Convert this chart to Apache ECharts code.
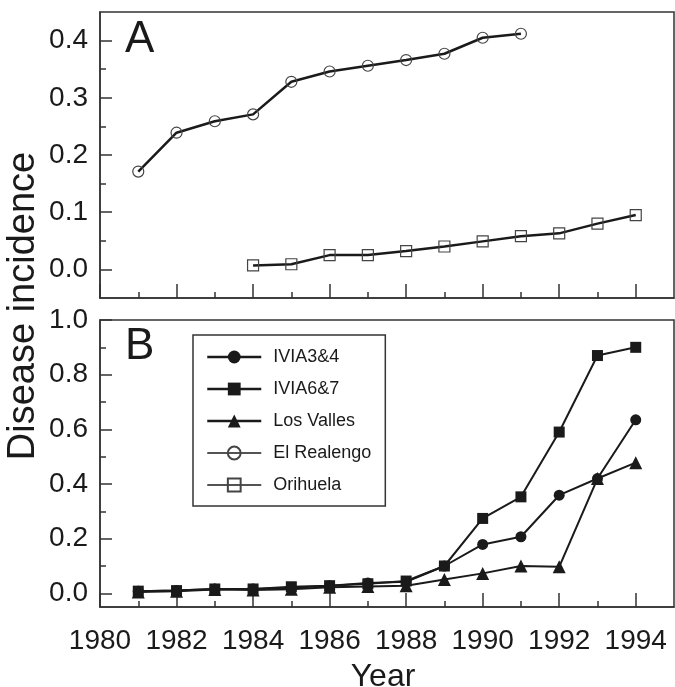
<!DOCTYPE html>
<html>
<head>
<meta charset="utf-8">
<script src="https://cdn.jsdelivr.net/npm/echarts@6/dist/echarts.min.js"></script>
<style>
  html, body { margin: 0; padding: 0; background: #fff; }
  #chart { width: 675px; height: 687px; }
</style>
</head>
<body>
<div id="chart"></div>
<script>
// data
const yearsB = [1981, 1982, 1983, 1984, 1985, 1986, 1987, 1988, 1989, 1990, 1991, 1992, 1993, 1994]
const yearsRealengo = [1981, 1982, 1983, 1984, 1985, 1986, 1987, 1988, 1989, 1990, 1991]
const yearsOrihuela = [1984, 1985, 1986, 1987, 1988, 1989, 1990, 1991, 1992, 1993, 1994]

const elRealengo = [0.171, 0.239, 0.259, 0.271, 0.328, 0.346, 0.356, 0.366, 0.377, 0.405, 0.412]
const orihuela = [0.007, 0.009, 0.025, 0.025, 0.032, 0.040, 0.049, 0.058, 0.063, 0.080, 0.095]

const ivia34 = [0.008, 0.010, 0.016, 0.016, 0.020, 0.028, 0.038, 0.042, 0.10, 0.179, 0.207, 0.359, 0.42, 0.635]
const ivia67 = [0.008, 0.010, 0.016, 0.016, 0.024, 0.028, 0.035, 0.045, 0.10, 0.274, 0.353, 0.59, 0.87, 0.90]
const losValles = [0.005, 0.008, 0.014, 0.012, 0.015, 0.022, 0.025, 0.028, 0.051, 0.073, 0.10, 0.097, 0.42, 0.478]

// tick labels
const yearLabels = [1980, 1982, 1984, 1986, 1988, 1990, 1992, 1994]
const yearMinor = [1981, 1983, 1985, 1987, 1989, 1991, 1993]
const ticksA = [0.0, 0.1, 0.2, 0.3, 0.4]
const ticksAMinor = [0.05, 0.15, 0.25, 0.35]
const ticksB = [0.0, 0.2, 0.4, 0.6, 0.8, 1.0]
const ticksBMinor = [0.1, 0.3, 0.5, 0.7, 0.9]

const FONT = '"Liberation Sans", Arial, sans-serif'
const INK = '#1a1a1a'
const FRAME = '#333'

function pairs(xs, ys) {
  return xs.map((x, i) => [x, ys[i]])
}

function xAxisPair(gridIndex, showLabels) {
  return [
    {
      type: 'value', gridIndex, min: 1980, max: 1995, position: 'bottom',
      axisLine: { show: true, onZero: false, lineStyle: { color: FRAME, width: 1.5 } },
      axisTick: { inside: true, length: 14, customValues: yearLabels, lineStyle: { color: FRAME, width: 1.5 } },
      axisLabel: {
        show: showLabels, customValues: yearLabels, margin: 20,
        fontSize: 28, fontFamily: FONT, color: INK,
        formatter: (v) => String(v),
      },
      splitLine: { show: false },
      name: showLabels ? 'Year' : '',
      nameLocation: 'middle',
      nameGap: 54,
      nameTextStyle: { fontSize: 32, fontFamily: FONT, color: INK, padding: [0, 8, 0, 0] },
    },
    {
      type: 'value', gridIndex, min: 1980, max: 1995, position: 'bottom',
      axisLine: { show: false, onZero: false },
      axisTick: { inside: true, length: 6, customValues: yearMinor, lineStyle: { color: FRAME, width: 1.5 } },
      axisLabel: { show: false },
      splitLine: { show: false },
    },
  ]
}

function yAxisPair(gridIndex, max, major, minor) {
  return [
    {
      type: 'value', gridIndex, min: -0.05, max, position: 'left',
      axisLine: { show: true, onZero: false, lineStyle: { color: FRAME, width: 1.5 } },
      axisTick: { inside: true, length: 12, customValues: major, lineStyle: { color: FRAME, width: 1.5 } },
      axisLabel: {
        customValues: major, margin: 12,
        fontSize: 28, fontFamily: FONT, color: INK,
        formatter: (v) => v.toFixed(1),
      },
      splitLine: { show: false },
    },
    {
      type: 'value', gridIndex, min: -0.05, max, position: 'left',
      axisLine: { show: false, onZero: false },
      axisTick: { inside: true, length: 6, customValues: minor, lineStyle: { color: FRAME, width: 1.5 } },
      axisLabel: { show: false },
      splitLine: { show: false },
    },
  ]
}

function series(name, data, xi, yi, symbol, size, filled, lineWidth) {
  return {
    name, type: 'line', data,
    xAxisIndex: xi, yAxisIndex: yi,
    symbol, symbolSize: size, showAllSymbol: true,
    lineStyle: { color: INK, width: lineWidth },
    itemStyle: filled
      ? { color: INK, borderColor: INK, borderWidth: 0 }
      : { color: 'transparent', borderColor: '#444', borderWidth: 1.2 },
    emphasis: { disabled: true },
  }
}

const chart = echarts.init(document.getElementById('chart'), null, { renderer: 'canvas' })

const option = {
  animation: false,
  backgroundColor: '#fff',
  grid: [
    { left: 100, width: 574, top: 12, height: 286, outerBoundsMode: 'none', show: true, borderColor: FRAME, borderWidth: 1.5 },
    { left: 100, width: 574, top: 320, height: 287, outerBoundsMode: 'none', show: true, borderColor: FRAME, borderWidth: 1.5 },
  ],
  xAxis: [...xAxisPair(0, false), ...xAxisPair(1, true)],
  yAxis: [...yAxisPair(0, 0.45, ticksA, ticksAMinor), ...yAxisPair(1, 1.0, ticksB, ticksBMinor)],
  legend: {
    left: 193, top: 335,
    orient: 'vertical',
    padding: [13, 14, 12, 13],
    itemWidth: 54, itemHeight: 16, itemGap: 14,
    borderColor: FRAME, borderWidth: 1.5,
    textStyle: { fontSize: 18, fontFamily: FONT, color: INK, padding: [0, 0, 0, 7] },
    data: [
      { name: 'IVIA3&4', lineStyle: { width: 2.5, color: INK } },
      { name: 'IVIA6&7', lineStyle: { width: 2.5, color: INK } },
      { name: 'Los Valles', lineStyle: { width: 2.5, color: INK } },
      { name: 'El Realengo', lineStyle: { width: 1.4, color: INK } },
      { name: 'Orihuela', lineStyle: { width: 1.4, color: INK } },
    ],
  },
  graphic: [
    { type: 'text', left: 125, top: 18, style: { text: 'A', fontSize: 44, fontFamily: FONT, fill: INK } },
    { type: 'text', left: 125, top: 325, style: { text: 'B', fontSize: 44, fontFamily: FONT, fill: INK } },
    {
      type: 'text', x: 24, y: 306, rotation: Math.PI / 2,
      style: { text: 'Disease incidence', fontSize: 38, fontFamily: FONT, fill: INK, align: 'center', verticalAlign: 'middle' },
    },
  ],
  series: [
    series('El Realengo', pairs(yearsRealengo, elRealengo), 0, 0, 'circle', 11, false, 2.5),
    series('Orihuela', pairs(yearsOrihuela, orihuela), 0, 0, 'rect', 11, false, 2.5),
    series('IVIA3&4', pairs(yearsB, ivia34), 2, 2, 'circle', 11, true, 2),
    series('IVIA6&7', pairs(yearsB, ivia67), 2, 2, 'rect', 11, true, 2),
    series('Los Valles', pairs(yearsB, losValles), 2, 2, 'triangle', 13, true, 2),
  ],
}

chart.setOption(option)
</script>
</body>
</html>
